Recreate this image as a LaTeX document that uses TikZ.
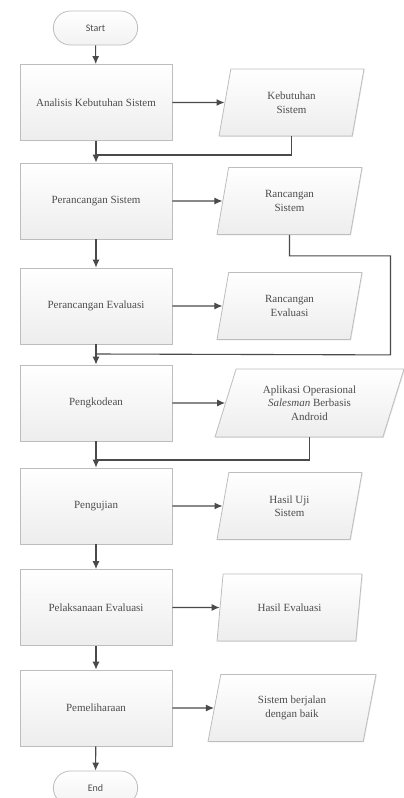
\documentclass[tikz,border=0pt]{standalone}
\usepackage{fontspec}
\setmainfont{Liberation Serif}
\newfontfamily\termfont{Carlito}
\usepackage{tikz}
\usetikzlibrary{shapes,positioning,calc}
\usetikzlibrary{shapes.geometric,shadows}
\usetikzlibrary{arrows.meta}
\definecolor{edgegray}{HTML}{BDBDBD}
\definecolor{linegray}{HTML}{4A4A4A}
\definecolor{textgray}{HTML}{4D4D4D}

\begin{document}
\begin{tikzpicture}[x=1pt, y=-1pt,
terminator/.style={rounded rectangle, draw=edgegray, thick, top color=white, bottom color=gray!10, minimum width=91pt, minimum height=34pt, font=\termfont\fontsize{10}{11}\selectfont, text=textgray},
process/.style={rectangle, draw=edgegray, thick, top color=white, bottom color=gray!14, minimum width=152pt, minimum height=76pt, font=\fontsize{11}{13}\selectfont, text=textgray, drop shadow={shadow xshift=0.8pt, shadow yshift=-0.8pt, opacity=0.2}},
data/.style={trapezium, trapezium left angle=67, trapezium right angle=113, trapezium stretches body, draw=edgegray, thick, top color=white, bottom color=gray!14, minimum width=145pt, minimum height=67pt, align=center, font=\fontsize{11}{13.5}\selectfont, text=textgray, drop shadow={shadow xshift=0.8pt, shadow yshift=-0.8pt, opacity=0.2}},
flow/.style={draw=linegray, line width=1.1pt, -{Latex[length=8pt,width=7pt]}},
link/.style={draw=linegray, line width=1.1pt},
]
\useasboundingbox (0,0) rectangle (404,798);

% main steps
\node (st) [terminator] at (95.5,28) {Start};
\node (b1) [process] at (96,102.5) {Analisis Kebutuhan Sistem};
\node (b2) [process] at (96,201) {Perancangan Sistem};
\node (b3) [process] at (96,306) {Perancangan Evaluasi};
\node (b4) [process] at (96,403) {Pengkodean};
\node (b5) [process] at (96,506) {Pengujian};
\node (b6) [process] at (96,607.5) {Pelaksanaan Evaluasi};
\node (b7) [process] at (96,708) {Pemeliharaan};
\node (en) [terminator] at (95.5,788) {End};

% outputs
\node (p1) [data] at (291.5,102.5) {Kebutuhan\\Sistem};
\node (p2) [data] at (289.5,201) {Rancangan\\Sistem};
\node (p3) [data] at (289.5,306) {Rancangan\\Evaluasi};
\node (p4) [data, trapezium left angle=63, trapezium right angle=117, minimum width=189pt, minimum height=68pt] at (309.5,403) {Aplikasi Operasional\\\textit{Salesman} Berbasis\\Android};
\node (p5) [data] at (289.5,506) {Hasil Uji\\Sistem};
\node (p6) [data] at (289.5,607.5) {Hasil Evaluasi};
\node (p7) [data, minimum width=168pt] at (292,708) {Sistem berjalan\\dengan baik};

% joints on the main line
\coordinate (j1) at (96,155);
\coordinate (j2) at (96,354);
\coordinate (j4) at (96,460);

\draw[flow] (st) -- (b1);
\foreach \a/\b in {b1/b2,b2/b3,b3/b4,b4/b5,b5/b6,b6/b7,b7/en}
  \draw[flow] (\a) -- (\b);
\foreach \n in {1,...,7}
  \draw[flow] (b\n.east) -- (p\n.west);

\draw[link] (p1.south) |- (j1);
\draw[link] (p2.south) -- ++(0,21) -| ++(101,99) -- (j2);
\draw[link] (p4.south) |- (j4);
\end{tikzpicture}
\end{document}
